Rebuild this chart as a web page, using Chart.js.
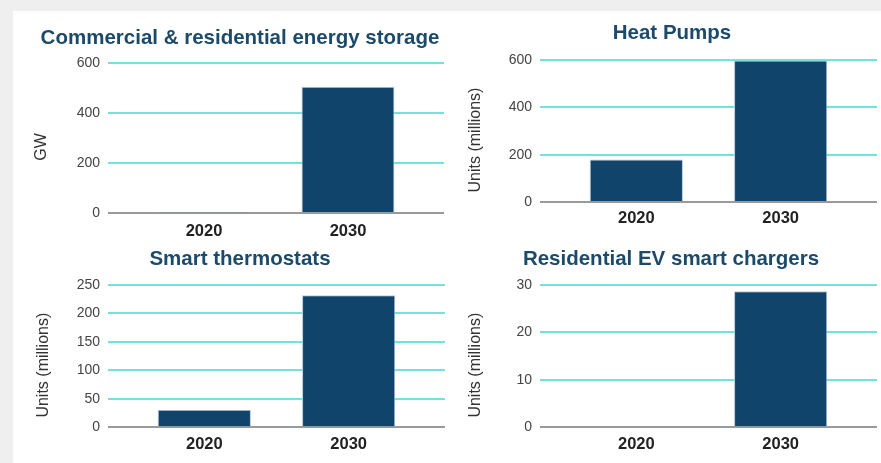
<!DOCTYPE html>
<html>
<head>
  <style>
    body {
      margin: 0;
      padding: 0;
      background: #efefef;
      font-family: Arial, "Liberation Sans", sans-serif;
    }
    #card {
      position: absolute;
      left: 13px;
      top: 11px;
      width: 868px;
      height: 452px;
      background: #fff;
    }
    canvas {
      position: absolute;
    }
  </style>
  <script src="https://cdn.jsdelivr.net/npm/chart.js"></script>
</head>
<body>
  <div id="card"></div>
  <canvas id="c1" width="432" height="229" style="left:13px;top:11px"></canvas>
  <canvas id="c2" width="436" height="229" style="left:445px;top:11px"></canvas>
  <canvas id="c3" width="432" height="223" style="left:13px;top:240px"></canvas>
  <canvas id="c4" width="436" height="223" style="left:445px;top:240px"></canvas>

  <script>
    // data
    const years = [2020, 2030];
    const storageGW = [2, 505];
    const heatPumps = [180, 598];
    const thermostats = [31, 232];
    const evChargers = [0, 28.7];

    const titles = [
      "Commercial & residential energy storage",
      "Heat Pumps",
      "Smart thermostats",
      "Residential EV smart chargers"
    ];
    const yTitles = ["GW", "Units (millions)", "Units (millions)", "Units (millions)"];
    const yMax = [600, 600, 250, 30];
    const yStep = [200, 200, 50, 10];

    const navy = "#10446a";
    const gridCyan = "#72e2df";
    const fontFam = "Arial, 'Liberation Sans', sans-serif";

    // chart title and rotated y axis title, placed by hand
    const titlesPlugin = {
      id: "panelTitles",
      afterDraw(chart, args, opts) {
        const ctx = chart.ctx;
        const area = chart.chartArea;
        ctx.save();
        ctx.font = "bold 20.5px " + fontFam;
        ctx.fillStyle = "#1b4a6b";
        ctx.textAlign = "center";
        ctx.textBaseline = "middle";
        ctx.fillText(opts.title, opts.cx, opts.cy);

        ctx.translate(opts.yx, (area.top + area.bottom) / 2 + 9);
        ctx.rotate(-Math.PI / 2);
        ctx.font = "16px " + fontFam;
        ctx.fillStyle = "#333";
        ctx.fillText(opts.yTitle, 0, 0);
        ctx.restore();
      }
    };

    function makeChart(id, idx, values, pos) {
      const ctx = document.getElementById(id).getContext("2d");
      return new Chart(ctx, {
        type: "bar",
        data: {
          datasets: [{
            data: years.map((y, i) => ({ x: y, y: values[i] })),
            backgroundColor: navy,
            borderColor: "#b9c8d4",
            borderWidth: 1,
            barPercentage: 0.646,
            categoryPercentage: 1
          }]
        },
        options: {
          responsive: false,
          animation: false,
          layout: { padding: { top: pos.top, right: pos.right, left: 0, bottom: 0 } },
          plugins: {
            legend: { display: false },
            tooltip: { enabled: false },
            panelTitles: {
              title: titles[idx],
              yTitle: yTitles[idx],
              cx: pos.cx,
              cy: pos.cy,
              yx: pos.yx
            }
          },
          scales: {
            x: {
              type: "linear",
              offset: false,
              min: 2013.33,
              max: 2036.67,
              afterBuildTicks: (scale) => {
                scale.ticks = years.map(v => ({ value: v }));
              },
              afterFit: (scale) => { scale.height = pos.xh; },
              grid: { display: false, drawTicks: false },
              border: { display: false },
              ticks: {
                padding: pos.xpad,
                color: "#222",
                font: { family: fontFam, size: 16.5, weight: "bold" },
                callback: (v) => String(v)
              }
            },
            y: {
              min: 0,
              max: yMax[idx],
              afterFit: (scale) => { scale.width = 95; },
              grid: {
                drawTicks: false,
                lineWidth: 2,
                color: (c) => c.tick.value === 0 ? "#9a9a9a" : gridCyan
              },
              border: { display: false },
              ticks: {
                stepSize: yStep[idx],
                padding: 8,
                color: "#444",
                font: { family: fontFam, size: 14 }
              }
            }
          }
        },
        plugins: [titlesPlugin]
      });
    }

    makeChart("c1", 0, storageGW, { top: 52, right: 1, xh: 27, xpad: 8.2, cx: 227, cy: 27, yx: 29 });
    makeChart("c2", 1, heatPumps, { top: 49, right: 4, xh: 38, xpad: 6.2, cx: 227, cy: 22, yx: 31 });
    makeChart("c3", 2, thermostats, { top: 45, right: 0, xh: 35.7, xpad: 6.9, cx: 227, cy: 19, yx: 31 });
    makeChart("c4", 3, evChargers, { top: 45, right: 4, xh: 35.7, xpad: 6.9, cx: 226, cy: 19, yx: 31 });
  </script>
</body>
</html>
